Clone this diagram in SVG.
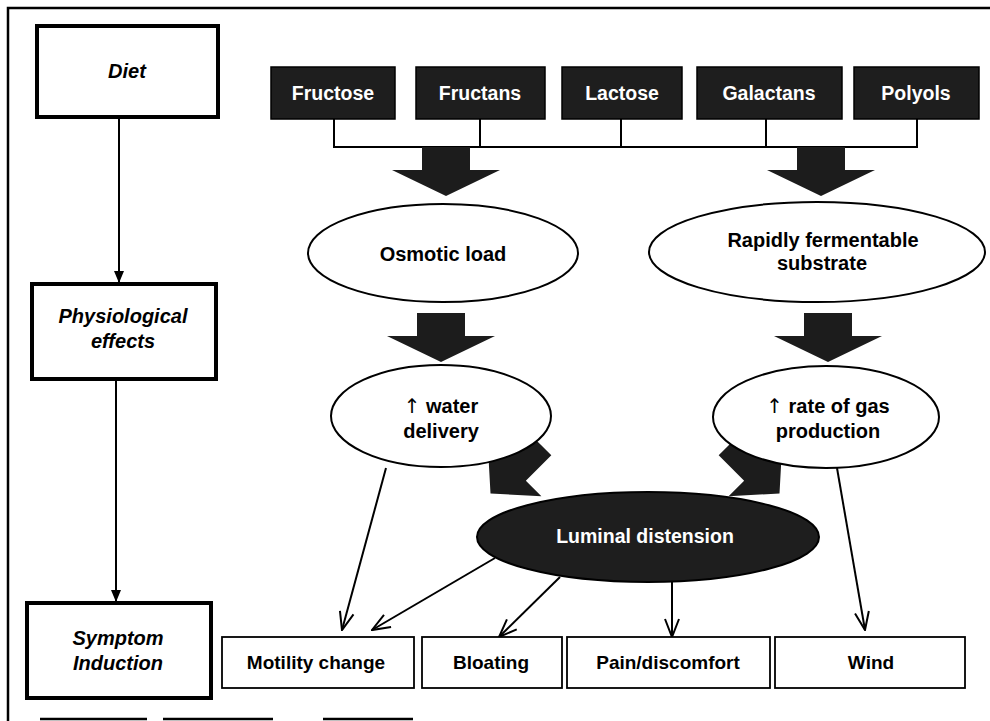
<svg xmlns="http://www.w3.org/2000/svg" width="990" height="721" viewBox="0 0 990 721">
<defs>
<style>
.frame{stroke:#000;stroke-width:2.5;fill:none}
.lvl{fill:#fff;stroke:#000;stroke-width:4}
.lvlt{font-family:"Liberation Sans",Arial,sans-serif;font-size:20px;font-weight:bold;font-style:italic;fill:#000;text-anchor:middle}
.food{fill:#1e1e1e;stroke:#000;stroke-width:1.5}
.foodt{font-family:"Liberation Sans",Arial,sans-serif;font-size:19.5px;font-weight:bold;fill:#fff;text-anchor:middle}
.ell{fill:#fff;stroke:#000;stroke-width:2}
.ellt{font-family:"Liberation Sans",Arial,sans-serif;font-size:20px;font-weight:bold;fill:#000;text-anchor:middle}
.up{font-family:"DejaVu Sans",sans-serif;font-weight:normal;fill:#000}
.sym{fill:#fff;stroke:#000;stroke-width:1.8}
.symt{font-family:"Liberation Sans",Arial,sans-serif;font-size:19px;font-weight:bold;fill:#000;text-anchor:middle}
.ln{stroke:#000;stroke-width:2;fill:none}
.big{fill:#1c1c1c}
</style>
<marker id="tri" viewBox="0 0 12 12" refX="11" refY="6" markerWidth="12" markerHeight="12" markerUnits="userSpaceOnUse" orient="auto">
<path d="M0,1 L12,6 L0,11 Z" fill="#000"/>
</marker>
<marker id="vee" viewBox="0 0 20 20" refX="19" refY="10" markerWidth="20" markerHeight="20" markerUnits="userSpaceOnUse" orient="auto">
<path d="M1,3 L19,10 L1,17" fill="none" stroke="#000" stroke-width="2"/>
</marker>
<path id="bigv" d="M-24,0 L24,0 L24,23 L54,23 L0,49 L-54,23 L-24,23 Z"/>
<path id="bigd" d="M-16,0 L16,0 L16,36 L38,36 L0,70 L-38,36 L-16,36 Z"/>
</defs>
<rect width="990" height="721" fill="#fff"/>
<g id="frame">
<path class="frame" d="M8,721 L8,8 L990,8"/>
<path class="frame" stroke-width="1.5" d="M40,719 L147,719 M163,719 L273,719 M323,719 L413,719"/>
</g>
<g id="connectors">
<line class="ln" x1="119" y1="117" x2="119" y2="282" marker-end="url(#tri)"/>
<line class="ln" x1="116" y1="380" x2="116" y2="601" marker-end="url(#tri)"/>
<path class="ln" d="M334,119 V147 M480,119 V147 M621,119 V147 M766,119 V147 M917,119 V147 M333,147 H918"/>
<use href="#bigv" class="big" transform="translate(446,147)"/>
<use href="#bigv" class="big" transform="translate(821,147)"/>
<use href="#bigv" class="big" transform="translate(441,313)"/>
<use href="#bigv" class="big" transform="translate(828,313)"/>
<use href="#bigd" class="big" transform="translate(540,444) rotate(45)"/>
<use href="#bigd" class="big" transform="translate(730,444) rotate(-45)"/>
<line class="ln" x1="386" y1="468" x2="342" y2="630" marker-end="url(#vee)"/>
<line class="ln" x1="495" y1="558" x2="372" y2="630" marker-end="url(#vee)"/>
<line class="ln" x1="560" y1="577" x2="499" y2="637" marker-end="url(#vee)"/>
<line class="ln" x1="672" y1="582" x2="672" y2="637" marker-end="url(#vee)"/>
<line class="ln" x1="837" y1="468" x2="865" y2="630" marker-end="url(#vee)"/>
</g>
<g id="diet"><rect class="lvl" x="37" y="26" width="181" height="91"/><text class="lvlt" x="127" y="78">Diet</text></g>
<g id="physiological"><rect class="lvl" x="32" y="284" width="184" height="95"/><text class="lvlt" x="123" y="323">Physiological</text><text class="lvlt" x="123" y="348">effects</text></g>
<g id="symptom"><rect class="lvl" x="27" y="603" width="184" height="95"/><text class="lvlt" x="118" y="645">Symptom</text><text class="lvlt" x="118" y="670">Induction</text></g>
<g id="fructose"><rect class="food" x="271" y="67" width="124" height="52"/><text class="foodt" x="333" y="100">Fructose</text></g>
<g id="fructans"><rect class="food" x="416" y="67" width="129" height="52"/><text class="foodt" x="480" y="100">Fructans</text></g>
<g id="lactose"><rect class="food" x="562" y="67" width="120" height="52"/><text class="foodt" x="622" y="100">Lactose</text></g>
<g id="galactans"><rect class="food" x="697" y="67" width="145" height="52"/><text class="foodt" x="769" y="100">Galactans</text></g>
<g id="polyols"><rect class="food" x="854" y="67" width="125" height="52"/><text class="foodt" x="916" y="100">Polyols</text></g>
<g id="osmotic"><ellipse class="ell" cx="443" cy="253" rx="135" ry="49"/><text class="ellt" x="443" y="261">Osmotic load</text></g>
<g id="fermentable"><ellipse class="ell" cx="817" cy="252" rx="168" ry="50"/><text class="ellt" x="823" y="247">Rapidly fermentable</text><text class="ellt" x="822" y="270">substrate</text></g>
<g id="water"><ellipse class="ell" cx="441" cy="416" rx="110" ry="51"/><text class="ellt" x="441" y="413"><tspan class="up">↑</tspan> water</text><text class="ellt" x="441" y="438">delivery</text></g>
<g id="gas"><ellipse class="ell" cx="826" cy="417" rx="113" ry="51"/><text class="ellt" x="828" y="413"><tspan class="up">↑</tspan> rate of gas</text><text class="ellt" x="828" y="438">production</text></g>
<g id="luminal"><ellipse cx="648" cy="537" rx="171" ry="45" fill="#1e1e1e" stroke="#000" stroke-width="2"/><text class="foodt" font-size="18" x="645" y="543">Luminal distension</text></g>
<g id="motility"><rect class="sym" x="222" y="637" width="192" height="51"/><text class="symt" x="316" y="669">Motility change</text></g>
<g id="bloating"><rect class="sym" x="422" y="637" width="140" height="51"/><text class="symt" x="491" y="669">Bloating</text></g>
<g id="pain"><rect class="sym" x="567" y="637" width="203" height="51"/><text class="symt" x="668" y="669">Pain/discomfort</text></g>
<g id="wind"><rect class="sym" x="775" y="637" width="190" height="51"/><text class="symt" x="871" y="669">Wind</text></g>
</svg>
